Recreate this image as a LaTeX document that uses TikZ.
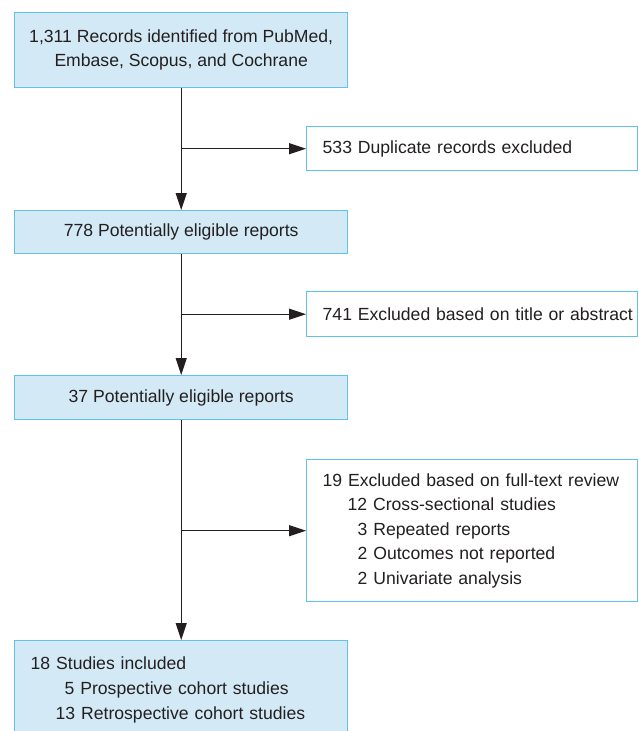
\documentclass[tikz,border=0pt]{standalone}
\usepackage{fontspec}
\setmainfont{Liberation Sans}
\usetikzlibrary{arrows.meta}
\definecolor{boxfill}{RGB}{211,234,246}
\definecolor{boxline}{RGB}{95,193,236}
\definecolor{txt}{RGB}{35,31,32}
\tikzset{
  base/.style={draw=boxline, line width=1.4pt, text=txt, inner xsep=16pt, inner ysep=0pt,
    font=\fontsize{17.6}{24.4}\selectfont, anchor=north west},
  bluebox/.style={base, fill=boxfill},
  whitebox/.style={base, fill=white},
  arr/.style={draw=txt, line width=1.3pt, -{Triangle[length=17pt,width=11pt]}},
  ln/.style={draw=txt, line width=1.3pt}
}
\begin{document}
\begin{tikzpicture}[x=1pt,y=-1pt]
\useasboundingbox (0,0) rectangle (638,731);
\node[bluebox, inner xsep=2pt, minimum width=333pt, minimum height=75pt, align=center] (n1) at (14,12)
  {1,311 Records identified from PubMed,\\Embase, Scopus, and Cochrane};
\node[whitebox, minimum width=331pt, minimum height=44pt, text width=299pt, align=left] (n2) at (306,126)
  {\mbox{533 Duplicate records excluded}};
\node[bluebox, inner xsep=2pt, minimum width=333pt, minimum height=43pt, align=center] (n3) at (14,210)
  {778 Potentially eligible reports};
\node[whitebox, minimum width=331pt, minimum height=45pt, text width=299pt, align=left] (n4) at (306,291)
  {\mbox{741 Excluded based on title or abstract}};
\node[bluebox, inner xsep=2pt, minimum width=333pt, minimum height=44pt, align=center] (n5) at (14,375)
  {37 Potentially eligible reports};
\node[whitebox, minimum width=331pt, minimum height=142pt, text width=299pt, align=left] (n6) at (306,459)
  {\mbox{19 Excluded based on full-text review}\\
   \hspace*{25pt}12 Cross-sectional studies\\
   \hspace*{35pt}3 Repeated reports\\
   \hspace*{35pt}2 Outcomes not reported\\
   \hspace*{35pt}2 Univariate analysis};
\node[bluebox, minimum width=333pt, text width=301pt, inner ysep=16pt, align=left,
  font=\fontsize{17.6}{25}\selectfont] (n7) at (14,640)
  {18 Studies included\\
   \hspace*{34pt}5 Prospective cohort studies\\
   \hspace*{25pt}13 Retrospective cohort studies\\[6pt]};
\coordinate (b1) at (n1.south |- n2.west);
\coordinate (b2) at (n1.south |- n4.west);
\coordinate (b3) at (n1.south |- n6.west);
\draw[arr] (n1.south) -- (n3.north);
\draw[arr] (n3.south) -- (n5.north);
\draw[arr] (n5.south) -- (n7.north);
\draw[arr] (b1) -- (n2.west);
\draw[arr] (b2) -- (n4.west);
\draw[arr] (b3) -- (n6.west);
\end{tikzpicture}
\end{document}
